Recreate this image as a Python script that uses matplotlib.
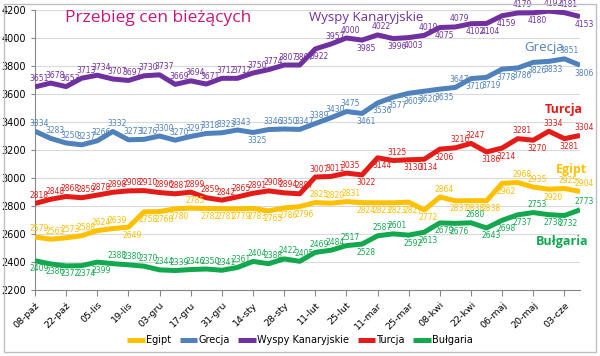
"""
Przebieg cen bieżących - weekly price lines for five destinations
"""

import matplotlib
matplotlib.use('Agg')
import matplotlib.pyplot as plt
from matplotlib.patches import Rectangle

# tick labels every two weeks (weekly data points)
tick_labels = ['08-paź', '22-paź', '05-lis', '19-lis', '03-gru', '17-gru', '31-gru',
               '14-sty', '28-sty', '11-lut', '25-lut', '11-mar', '25-mar', '08-kwi',
               '22-kwi', '06-maj', '20-maj', '03-cze']

egipt = [2579, 2563, 2573, 2588, 2624, 2639, 2649, 2758, 2760, 2780, 2785, 2782,
         2781, 2779, 2783, 2765, 2786, 2796, 2825, 2820, 2831, 2824, 2823, 2823,
         2827, 2772, 2864, 2837, 2838, 2838, 2962, 2968, 2935, 2920, 2925, 2904]
grecja = [3334, 3283, 3250, 3237, 3266, 3332, 3273, 3276, 3300, 3270, 3297, 3318,
          3323, 3343, 3325, 3346, 3350, 3347, 3389, 3430, 3475, 3461, 3536, 3577,
          3605, 3620, 3635, 3647, 3710, 3719, 3778, 3786, 3826, 3833, 3851, 3806]
wyspy = [3651, 3678, 3653, 3713, 3734, 3707, 3697, 3730, 3737, 3669, 3694, 3671,
         3712, 3712, 3750, 3774, 3807, 3807, 3922, 3957, 4000, 3985, 4022, 3996,
         4003, 4019, 4075, 4079, 4102, 4104, 4159, 4179, 4180, 4192, 4181, 4153]
turcja = [2818, 2848, 2868, 2859, 2878, 2898, 2908, 2910, 2896, 2887, 2899, 2859,
          2842, 2865, 2891, 2908, 2894, 2887, 3007, 3011, 3035, 3022, 3144, 3125,
          3130, 3134, 3206, 3216, 3247, 3186, 3214, 3281, 3270, 3334, 3281, 3304]
bulgaria = [2409, 2386, 2372, 2374, 2399, 2388, 2380, 2370, 2344, 2339, 2346, 2350,
            2341, 2361, 2404, 2388, 2422, 2405, 2469, 2484, 2517, 2528, 2587, 2601,
            2592, 2613, 2679, 2676, 2680, 2643, 2698, 2737, 2753, 2738, 2732, 2773]

# data label placement: u = above the line, d = below
place_egipt = 'u' * 6 + 'd' + 'ddd' + 'u' + 'd' * 7 + 'uuu' + 'd' * 5 + 'u' + 'dddd' + 'uu' + 'd' + 'uu'
place_grecja = 'u' * 14 + 'd' + 'u' * 6 + 'd' * 6 + 'u' + 'd' * 6 + 'u' + 'd'
place_wyspy = 'u' * 18 + 'duududdududdduduud'
place_turcja = 'u' * 21 + 'ddudddu' + 'udd' + 'udud' + 'u'
place_bulgaria = 'd' * 5 + 'u' * 16 + 'd' + 'uu' + 'dddd' + 'u' + 'ddd' + 'u' + 'dd' + 'u'

series = [
    ('Egipt', egipt, '#FFC000', place_egipt),
    ('Grecja', grecja, '#4F81BD', place_grecja),
    ('Wyspy Kanaryjskie', wyspy, '#7030A0', place_wyspy),
    ('Turcja', turcja, '#E41B17', place_turcja),
    ('Bułgaria', bulgaria, '#12A94E', place_bulgaria),
]

fig = plt.figure(figsize=(6.0, 3.56), dpi=100)
ax = fig.add_axes([35 / 600, 1 - 290 / 356, 545 / 600, 280 / 356])

x = list(range(len(egipt)))
for name, vals, col, place in series:
    ax.plot(x, vals, color=col, lw=3.6, solid_capstyle='butt', label=name, zorder=3)
    for i, v in enumerate(vals):
        up = place[i] == 'u'
        ax.annotate(str(v), (i, v), xytext=(3, 2.5 if up else -2.5), textcoords='offset points',
                    ha='center', va='bottom' if up else 'top', fontsize=5.5, color=col,
                    zorder=4)

ax.set_xlim(0, len(x) - 1)
ax.set_ylim(2200, 4200)
ax.set_yticks(range(2200, 4201, 200))
ax.set_xticks(range(0, len(x), 2))
ax.set_xticklabels(tick_labels, rotation=45, ha='right', rotation_mode='anchor', fontsize=6.8)
ax.tick_params(axis='y', labelsize=7, length=3, color='#888888')
ax.tick_params(axis='x', length=4, color='#888888')
ax.grid(axis='y', color='#D9D9D9', lw=0.8)
ax.set_axisbelow(True)
for s in ['top', 'right']:
    ax.spines[s].set_visible(False)
for s in ['left', 'bottom']:
    ax.spines[s].set_color('#888888')

# title and series names
fig.text(65 / 600, 1 - 18 / 356, 'Przebieg cen bieżących', color='#C8157E',
         fontsize=12.5, family='Open Sans', va='center', ha='left')
fig.text(366 / 600, 1 - 17 / 356, 'Wyspy Kanaryjskie', color='#7030A0',
         fontsize=9.5, family='Open Sans', va='center', ha='center')
fig.text(544 / 600, 1 - 48 / 356, 'Grecja', color='#4F81BD',
         fontsize=9.5, family='Open Sans', va='center', ha='center')
fig.text(564 / 600, 1 - 110 / 356, 'Turcja', color='#E41B17',
         fontsize=9, family='Open Sans', weight='bold', va='center', ha='center')
fig.text(571 / 600, 1 - 169 / 356, 'Egipt', color='#FFC000',
         fontsize=9, family='Open Sans', weight='bold', va='center', ha='center')
fig.text(562 / 600, 1 - 242 / 356, 'Bułgaria', color='#12A94E',
         fontsize=9, family='Open Sans', weight='bold', va='center', ha='center')

fig.legend(loc='center', bbox_to_anchor=(300 / 600, 1 - 340 / 356), ncol=5,
           frameon=False, fontsize=7, handlelength=1.8, handletextpad=0.1,
           columnspacing=0.9)

fig.patches.append(Rectangle((4 / 600, 4 / 356), 592 / 600, 348 / 356,
                             transform=fig.transFigure, fill=False,
                             edgecolor='#BFBFBF', lw=1))

plt.savefig('out.png', dpi=100)
